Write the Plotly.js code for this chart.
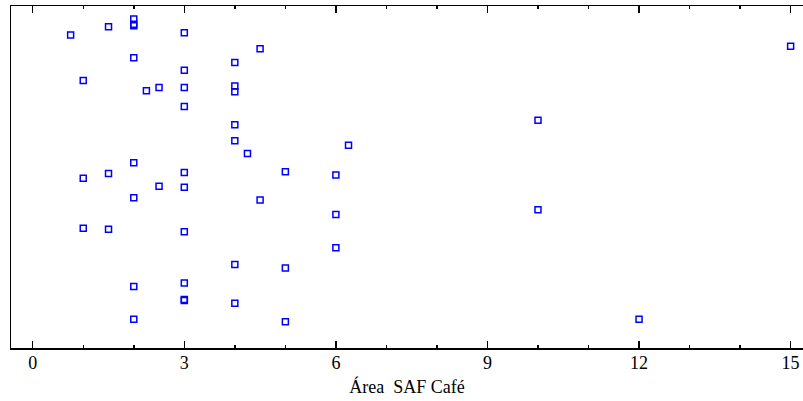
<!DOCTYPE html>
<html>
<head>
<meta charset="utf-8">
<script src="https://cdn.plot.ly/plotly-3.0.1.min.js"></script>
<style>html,body{margin:0;padding:0;background:#fff;overflow:hidden;}</style>
</head>
<body>
<div id="chart" style="width:803px;height:401px;"></div>
<script>
// Área SAF Café (x) with vertical jitter position (y, 0-1)
const areaSAF = [2, 2, 2, 1.5, 0.75, 3, 4.5, 2, 4, 3, 1, 2.25, 2.5, 3, 4, 4, 3, 4, 4, 6.25, 4.25, 2, 1.5, 3, 5, 6, 1, 2.5, 3, 2, 4.5, 6, 1, 1.5, 3, 6, 4, 5, 3, 2, 3, 3, 4, 2, 5, 15, 10, 10, 12];
const jitter = [0.962, 0.947, 0.942, 0.939, 0.915, 0.922, 0.875, 0.849, 0.835, 0.812, 0.782, 0.752, 0.762, 0.762, 0.766, 0.749, 0.706, 0.653, 0.606, 0.593, 0.569, 0.542, 0.510, 0.513, 0.515, 0.506, 0.496, 0.473, 0.470, 0.439, 0.433, 0.390, 0.350, 0.347, 0.340, 0.293, 0.244, 0.234, 0.190, 0.180, 0.142, 0.139, 0.131, 0.084, 0.077, 0.882, 0.666, 0.404, 0.084];
const xTickVals = [0, 3, 6, 9, 12, 15];
const xTickText = ["0", "3", "6", "9", "12", "15"];
const xTitle = "Área\u00a0 SAF Café";

const serif = 'Liberation Serif';
const trace = {
  x: areaSAF, y: jitter, type: 'scatter', mode: 'markers',
  marker: {symbol: 'square-open', size: 6, color: '#0000ff', line: {width: 1.5, color: '#0000ff'}},
  hoverinfo: 'skip'
};
const layout = {
  width: 803, height: 401,
  margin: {l: 11, r: 0, t: 6, b: 53, pad: 0},
  paper_bgcolor: '#fff', plot_bgcolor: '#fff',
  showlegend: false,
  font: {family: serif, color: '#000', size: 18},
  xaxis: {
    range: [-0.43, 15.245],
    tickvals: xTickVals, ticktext: xTickText,
    ticks: 'inside', ticklen: 7, tickwidth: 1.5, tickcolor: '#000',
    minor: {dtick: 1, tick0: 0, ticks: 'inside', ticklen: 3, tickwidth: 1.5, tickcolor: '#000', showgrid: false},
    showline: true, linewidth: 1.5, linecolor: '#000', mirror: 'ticks',
    showgrid: false, zeroline: false,
    tickfont: {size: 18, family: serif, color: '#000'},
    ticklabelstandoff: -2,
    title: {text: xTitle, font: {size: 18, family: serif, color: '#000'}, standoff: 8}
  },
  yaxis: {
    range: [0, 1],
    showline: true, linewidth: 1.5, linecolor: '#000', mirror: false,
    ticks: '', showticklabels: false, showgrid: false, zeroline: false
  }
};
Plotly.newPlot('chart', [trace], layout, {displayModeBar: false, staticPlot: true});
</script>
</body>
</html>
